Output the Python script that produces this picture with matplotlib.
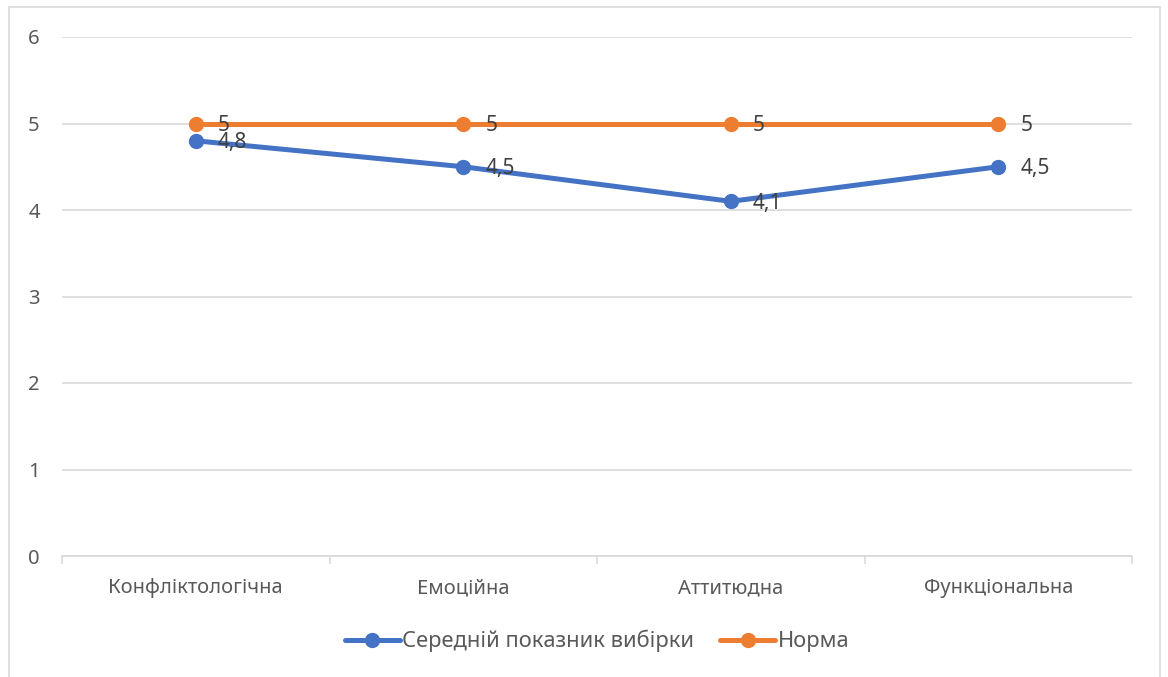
import matplotlib.pyplot as plt
from matplotlib.patches import Rectangle

plt.rcParams['font.family'] = ['Noto Sans', 'DejaVu Sans']

categories = ['Конфліктологічна', 'Емоційна', 'Аттитюдна', 'Функціональна']
sample_mean = [4.8, 4.5, 4.1, 4.5]
norm = [5, 5, 5, 5]
series_names = ['Середній показник вибірки', 'Норма']

blue = '#4472c4'
orange = '#ed7d31'
grid_c = '#d9d9d9'
text_c = '#595959'

fig = plt.figure(figsize=(11.68, 6.77), dpi=100)
fig.patches.append(Rectangle((9 / 1168, -0.01), 1151 / 1168, 1 - 7 / 677 + 0.01,
                             transform=fig.transFigure, fill=False,
                             edgecolor=grid_c, linewidth=1.2))

ax = fig.add_axes([62 / 1168, 1 - 556 / 677, 1070 / 1168, 519 / 677])
x = list(range(len(categories)))

for vals, color, name in [(sample_mean, blue, series_names[0]), (norm, orange, series_names[1])]:
    ax.plot(x, vals, color=color, linewidth=3.6, marker='o', markersize=10,
            solid_capstyle='round', label=name, zorder=3)
    for xi, v in zip(x, vals):
        ax.annotate(f'{v:g}'.replace('.', ','), (xi, v), xytext=(16, -1.5),
                    textcoords='offset points', ha='left', va='center',
                    fontsize=15, color='#404040', zorder=4)

ax.set_xlim(-0.5, len(categories) - 0.5)
ax.set_ylim(0, 6)
ax.set_yticks(range(0, 7))
ax.yaxis.grid(True, color=grid_c, linewidth=1.2)
ax.set_axisbelow(True)
for side in ['top', 'right', 'left']:
    ax.spines[side].set_visible(False)
ax.spines['bottom'].set_color(grid_c)
ax.spines['bottom'].set_linewidth(1.2)

ax.set_xticks(x)
ax.set_xticklabels(categories)
ax.set_xticks([i - 0.5 for i in range(len(categories) + 1)], minor=True)
ax.tick_params(axis='x', which='major', length=0, pad=16, labelsize=14.5, labelcolor=text_c)
ax.tick_params(axis='x', which='minor', length=6, width=1.2, color=grid_c)
ax.tick_params(axis='y', length=0, pad=16, labelsize=14.5, labelcolor=text_c)

fig.legend(loc='center', bbox_to_anchor=(597 / 1168, 1 - 641 / 677), ncol=2,
           frameon=False, fontsize=15.8, labelcolor=text_c, handlelength=2.5,
           handletextpad=0.1, columnspacing=1.2)

fig.savefig('out.png', dpi=100)
